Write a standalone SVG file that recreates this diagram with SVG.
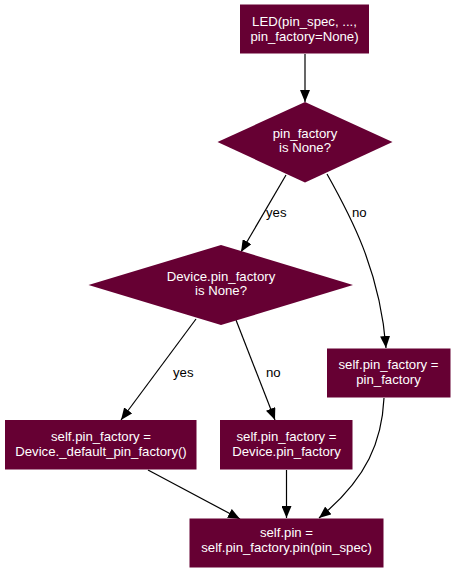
<svg xmlns="http://www.w3.org/2000/svg" width="456" height="572" viewBox="0 0 456 572">
<style>
.n{fill:#660033;}
.t{font-family:"Liberation Sans",Arial,sans-serif;font-size:13.2px;fill:#ffffff;text-anchor:middle;}
.l{font-family:"Liberation Sans",Arial,sans-serif;font-size:13.2px;fill:#000000;}
.e{fill:none;stroke:#000000;stroke-width:1.2;}
</style>
<defs>
<marker id="ah" markerUnits="userSpaceOnUse" markerWidth="12" markerHeight="10" viewBox="0 0 12 10" refX="12" refY="5" orient="auto">
<path d="M0,0 L12,5 L0,10 z" fill="#000000"/>
</marker>
</defs>
<g id="connectors">
<path class="e" d="M305,54 L305,102" marker-end="url(#ah)"/>
<path class="e" d="M286,175 L241,252" marker-end="url(#ah)"/>
<text class="l" x="266" y="217">yes</text>
<path class="e" d="M327,174 C350,215 380,270 386,348" marker-end="url(#ah)"/>
<text class="l" x="352" y="217">no</text>
<path class="e" d="M196,319 L121,420" marker-end="url(#ah)"/>
<text class="l" x="173" y="377">yes</text>
<path class="e" d="M236,320 L275,420" marker-end="url(#ah)"/>
<text class="l" x="266" y="377">no</text>
<path class="e" d="M148,470 L240,519" marker-end="url(#ah)"/>
<path class="e" d="M286.5,470 L286.5,518" marker-end="url(#ah)"/>
<path class="e" d="M384,398 C382,440 368,478 319,518" marker-end="url(#ah)"/>
</g>
<g id="led">
<rect class="n" x="240" y="4.5" width="129" height="49"/>
<text class="t" x="304.5" y="26">LED(pin_spec, ...,</text>
<text class="t" x="304.5" y="41">pin_factory=None)</text>
</g>
<g id="d1">
<polygon class="n" points="305,102 392.5,142 305,182.5 217.5,142"/>
<text class="t" x="305" y="138">pin_factory</text>
<text class="t" x="305" y="152">is None?</text>
</g>
<g id="d2">
<polygon class="n" points="221,245 353,285 221,325 88.5,285"/>
<text class="t" x="221" y="281">Device.pin_factory</text>
<text class="t" x="221" y="295">is None?</text>
</g>
<g id="assign_pf">
<rect class="n" x="327" y="348.5" width="123.5" height="49"/>
<text class="t" x="388.5" y="368.5">self.pin_factory =</text>
<text class="t" x="388.5" y="383.5">pin_factory</text>
</g>
<g id="assign_default">
<rect class="n" x="5" y="420" width="191.5" height="49.5"/>
<text class="t" x="101" y="441">self.pin_factory =</text>
<text class="t" x="101" y="456">Device._default_pin_factory()</text>
</g>
<g id="assign_device">
<rect class="n" x="220" y="420" width="132.5" height="49.5"/>
<text class="t" x="286.5" y="441">self.pin_factory =</text>
<text class="t" x="286.5" y="456">Device.pin_factory</text>
</g>
<g id="assign_pin">
<rect class="n" x="189.5" y="518.5" width="194" height="49"/>
<text class="t" x="286.5" y="537">self.pin =</text>
<text class="t" x="286.5" y="552">self.pin_factory.pin(pin_spec)</text>
</g>
</svg>
